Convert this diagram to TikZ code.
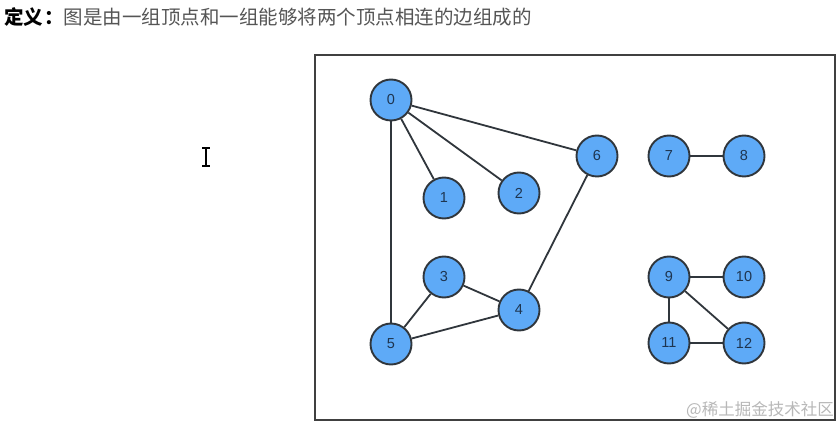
\documentclass[tikz,border=0pt]{standalone}
\usepackage{fontspec}
\setmainfont{Liberation Sans}
\newfontfamily\cjk{Noto Sans CJK SC}
\definecolor{nodefill}{HTML}{5EAAF7}
\definecolor{nodeline}{HTML}{30363C}
\definecolor{numcol}{HTML}{1E3550}
\definecolor{titlegray}{HTML}{555555}
\definecolor{wmgray}{HTML}{B8B8B8}
\tikzset{
  vtx/.style={circle, draw=nodeline, line width=1.9pt, fill=nodefill, minimum size=41pt, inner sep=0pt, text=numcol, font=\fontsize{14.5}{14.5}\selectfont},
  edge/.style={draw=nodeline, line width=1.8pt},
  frame/.style={draw=black!75, line width=1.6pt}
}
\begin{document}
\begin{tikzpicture}[x=1pt,y=-1pt]
\useasboundingbox[fill=white] (0,0) rectangle (840,427);
\node[anchor=west, inner sep=0pt] (title) at (4,17) {\fontsize{19.5}{19.5}\selectfont{\cjk\bfseries\color{black}定义\hspace{1pt}：}{\cjk\color{titlegray}图是由一组顶点和一组能够将两个顶点相连的边组成的}};
\node[frame, minimum width=520pt, minimum height=365pt, anchor=north west, inner sep=0pt] (box) at (314,54) {};
\node[vtx] (n0) at (391,100) {0};
\node[vtx] (n1) at (444,198) {1};
\node[vtx] (n2) at (519,193) {2};
\node[vtx] (n6) at (597,156) {6};
\node[vtx] (n7) at (669,156) {7};
\node[vtx] (n8) at (744,156) {8};
\node[vtx] (n3) at (444,277) {3};
\node[vtx] (n4) at (519,310) {4};
\node[vtx] (n5) at (391,344) {5};
\node[vtx] (n9) at (669,277) {9};
\node[vtx] (n10) at (744,277) {10};
\node[vtx] (n11) at (669,343) {11};
\node[vtx] (n12) at (744,343) {12};
\draw[edge] (n0) -- (n1);
\draw[edge] (n0) -- (n2);
\draw[edge] (n0) -- (n6);
\draw[edge] (n0) -- (n5);
\draw[edge] (n6) -- (n4);
\draw[edge] (n3) -- (n4);
\draw[edge] (n3) -- (n5);
\draw[edge] (n5) -- (n4);
\draw[edge] (n7) -- (n8);
\draw[edge] (n9) -- (n10);
\draw[edge] (n9) -- (n11);
\draw[edge] (n9) -- (n12);
\draw[edge] (n11) -- (n12);
\node[anchor=east, inner sep=0pt, text=wmgray] (wm) at (834,410) {\fontsize{16.5}{16.5}\selectfont\cjk @稀土掘金技术社区};
\coordinate (cur) at (206,157);
\draw[line width=2.2pt] ([yshift=-9pt]cur) -- ([yshift=9pt]cur);
\draw[line width=1.8pt] ([xshift=-4pt,yshift=-9pt]cur) -- ([xshift=4pt,yshift=-9pt]cur);
\draw[line width=1.8pt] ([xshift=-4pt,yshift=9pt]cur) -- ([xshift=4pt,yshift=9pt]cur);
\end{tikzpicture}
\end{document}
